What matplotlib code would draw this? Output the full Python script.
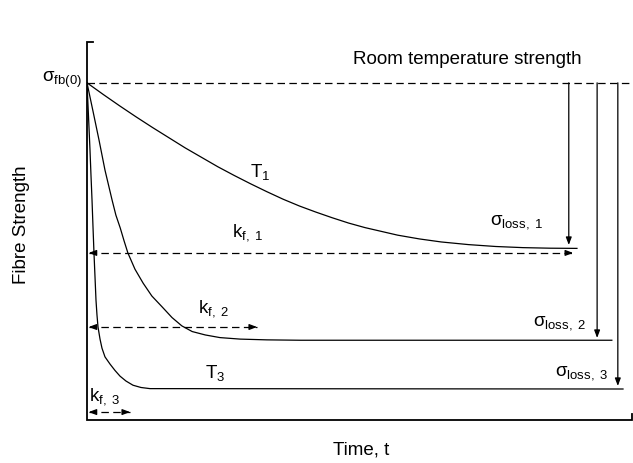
import matplotlib
matplotlib.use('Agg')
import matplotlib.pyplot as plt

plt.rcParams['font.family'] = ['Liberation Sans', 'DejaVu Sans']
plt.rcParams['mathtext.fontset'] = 'custom'
plt.rcParams['mathtext.rm'] = 'Liberation Sans'
plt.rcParams['mathtext.it'] = 'Liberation Sans:italic'
plt.rcParams['mathtext.bf'] = 'Liberation Sans:bold'

# schematic values (time 0-100, strength 0-100)
time1 = [0, 3, 6, 9, 12, 15, 18, 21, 24, 27, 30, 33, 36, 39, 42, 45, 48, 51,
         54, 57, 61, 65, 70, 75, 80, 85, 89.9]
strength1 = [89.2, 86.1, 83.1, 80.2, 77.4, 74.7, 72.0, 69.5, 67.0, 64.7, 62.5, 60.4,
             58.4, 56.6, 55.0, 53.5, 52.1, 50.9, 49.9, 48.9, 47.9, 47.1, 46.4, 45.9,
             45.6, 45.45, 45.4]

time2 = [0, 1.1, 2.2, 3.3, 4.6, 5.3, 6.1, 6.8, 7.5, 8.8, 10.3, 11.9, 13.8,
         15.6, 17.4, 19.3, 21.7, 24.4, 28.1, 33.0, 39.1, 96.3]
strength2 = [89.2, 81.7, 74.1, 66.1, 58.2, 54.2, 50.8, 47.4, 44.2, 39.9, 36.2, 32.8, 29.9,
             27.1, 24.9, 23.4, 22.5, 21.8, 21.4, 21.2, 21.1, 21.1]

time3 = [0, 0.28, 0.55, 0.73, 0.92, 1.1, 1.28, 1.47, 1.65, 1.83, 2.02, 2.39, 2.75,
         3.3, 4.22, 5.14, 6.06, 7.16, 8.44, 9.91, 11.56, 98.35]
strength3 = [89.2, 80.2, 71.4, 64.8, 58.2, 51.1, 44.2, 37.8, 31.7, 27.8, 24.6, 21.4, 19.0,
             16.7, 14.8, 13.1, 11.6, 10.3, 9.2, 8.6, 8.3, 8.2]

room_strength = 89.2
loss_x = [88.4, 93.6, 97.4]
loss_end = [46.3, 21.7, 9.0]
kf_y = [44.2, 24.6, 2.1]
kf_end = [89.2, 31.2, 7.9]

fig = plt.figure(figsize=(6.33, 4.63), dpi=100)
ax = fig.add_axes([87/633, 43/463, 545/633, 378/463])
ax.set_xlim(0, 100)
ax.set_ylim(0, 100)
ax.axis('off')

# frame: left spine with top tick, bottom spine with right tick
ax.plot([1.1, 0, 0, 100, 100], [100, 100, 0, 0, 1.6], color='k', lw=1.3,
        clip_on=False, solid_joinstyle='miter')

for t, s in [(time1, strength1), (time2, strength2), (time3, strength3)]:
    ax.plot(t, s, color='k', lw=0.9, solid_joinstyle='round')

# room temperature strength
ax.plot([0, 100], [room_strength, room_strength], color='k', lw=0.9,
        dashes=(6, 3.5))

head = dict(arrowstyle='-|>,head_length=0.45,head_width=0.17', color='k',
            lw=0.9, shrinkA=0, shrinkB=0, mutation_scale=10)

# strength loss arrows
for x, y in zip(loss_x, loss_end):
    ax.annotate('', xy=(x, y), xytext=(x, room_strength), arrowprops=head)

# k_f dashed double arrows
for y, x in zip(kf_y, kf_end):
    ax.plot([0.3, x], [y, y], color='k', lw=0.9, dashes=(6, 3.5))
    ax.annotate('', xy=(x, y), xytext=(x - 1, y), arrowprops=head)
    ax.annotate('', xy=(0.3, y), xytext=(1.3, y), arrowprops=head)

fs = 13.5
ax.text(69.7, 95.5, 'Room temperature strength', fontsize=fs, ha='center', va='center')
ax.text(-0.9, 90.0, r'$\mathrm{σ_{fb(0)}}$', fontsize=fs, ha='right', va='center')
ax.text(29.9, 65.5, r'$\mathrm{T_{1}}$', fontsize=fs, ha='left', va='center')
ax.text(26.6, 49.7, r'$\mathrm{k_{f,\ 1}}$', fontsize=fs, ha='left', va='center')
ax.text(20.4, 29.6, r'$\mathrm{k_{f,\ 2}}$', fontsize=fs, ha='left', va='center')
ax.text(21.7, 12.4, r'$\mathrm{T_{3}}$', fontsize=fs, ha='left', va='center')
ax.text(0.4, 6.3, r'$\mathrm{k_{f,\ 3}}$', fontsize=fs, ha='left', va='center')
ax.text(73.9, 52.3, r'$\mathrm{σ_{loss,\ 1}}$', fontsize=fs, ha='left', va='center')
ax.text(81.8, 25.7, r'$\mathrm{σ_{loss,\ 2}}$', fontsize=fs, ha='left', va='center')
ax.text(85.9, 12.5, r'$\mathrm{σ_{loss,\ 3}}$', fontsize=fs, ha='left', va='center')

fig.text(22/633, 1 - 225/463, 'Fibre Strength', fontsize=fs, rotation=90,
         ha='center', va='center')
fig.text(361/633, 1 - 450/463, 'Time, t', fontsize=fs, ha='center', va='center')

fig.savefig('out.png', dpi=100)
